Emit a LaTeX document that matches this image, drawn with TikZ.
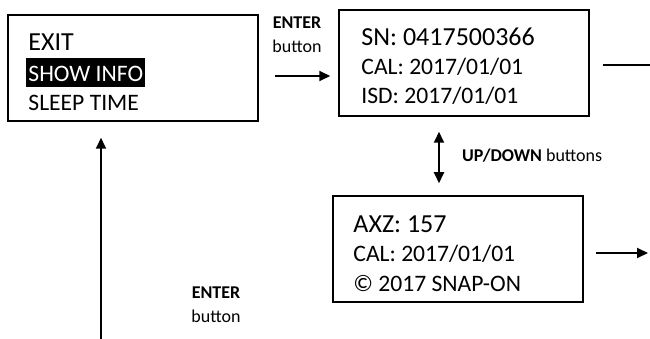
\documentclass[tikz,border=0pt]{standalone}
\usepackage{fontspec}
\setmainfont{Carlito}
\usetikzlibrary{positioning,calc,arrows.meta}

\begin{document}
\begin{tikzpicture}[>={Triangle[length=11pt,width=10pt]},x=1pt,y=1pt,
    screen/.style={draw,line width=1.5pt,minimum width=250pt,minimum height=106pt,inner sep=0pt},
    big/.style={anchor=base west,inner sep=0pt,font=\fontsize{26}{30}\selectfont},
    row/.style={anchor=base west,inner sep=0pt,font=\fontsize{23.6}{28}\selectfont},
    lbl/.style={inner sep=0pt,align=center,font=\fontsize{18}{24}\selectfont},
    arr/.style={->,line width=2pt}]
  \useasboundingbox (0,0) rectangle (650,-339);

  % screens
  \node[screen] (menu) at (133,-68) {};
  \node[screen] (info) at (464,-63) {};
  \node[screen] (detail) at (458,-249) {};

  % menu screen
  \node[big] (exit) at ([shift={(21,-36)}]menu.north west) {EXIT};
  \node[row,fill=black,text=white,inner xsep=2pt,inner ysep=1.5pt,text height=22pt,text depth=4.5pt]
    (showinfo) at ([shift={(-2,-31)}]exit.base west) {SHOW INFO};
  \node[row] (sleep) at ([yshift=-60]exit.base west) {SLEEP TIME};

  % info screen
  \node[big] (sn) at ([shift={(23,-36)}]info.north west) {SN: 0417500366};
  \node[row] (cal) at ([yshift=-29]sn.base west) {CAL: 2017/01/01};
  \node[row] (isd) at ([yshift=-58]sn.base west) {ISD: 2017/01/01};

  % detail screen
  \node[big] (axz) at ([shift={(21,-37)}]detail.north west) {AXZ: 157};
  \node[row] (cal2) at ([yshift=-29]axz.base west) {CAL: 2017/01/01};
  \node[row] (copy) at ([yshift=-59]axz.base west) {© 2017 SNAP-ON};

  % labels
  \node[lbl,anchor=north] (enter1) at (297,-17) {\textbf{ENTER}\\button};
  \node[lbl,anchor=base west] (updown) at (462,-162) {\textbf{UP/DOWN} buttons};
  \node[lbl,anchor=north] (enter2) at (216,-287) {\textbf{ENTER}\\button};

  % connectors
  \coordinate (infoout) at (650,-65);
  \coordinate (detailout) at (648,-253);
  \coordinate (from) at (101,-339);
  \draw[arr] ($(menu.east)+(16,-8)$) -- ($(info.west)+(-8,-13)$);
  \draw[line width=2pt] ($(info.east)+(13,-2)$) -- (infoout);
  \draw[arr,<->] ($(info.south)+(-25,-15)$) -- ($(detail.north)+(-19,12)$);
  \draw[arr] ($(detail.east)+(12,-4)$) -- (detailout);
  \draw[arr] (from) -- ($(menu.south)+(-32,-16)$);
\end{tikzpicture}
\end{document}
